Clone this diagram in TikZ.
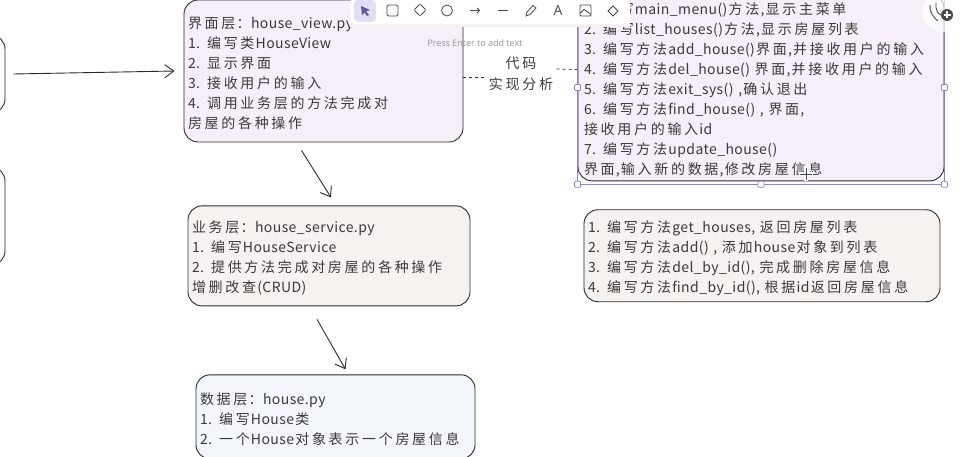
\documentclass[tikz,border=0pt]{standalone}
\usepackage{fontspec}
\setmainfont{Noto Sans CJK SC}[LetterSpace=3, WordSpace=1.5]
\newfontfamily\uifont{Open Sans}
\usepackage{xcolor}
\definecolor{colorView}{HTML}{F6EFF9}
\definecolor{colorService}{HTML}{F6F2EF}
\definecolor{colorData}{HTML}{F3F6FA}
\definecolor{colorEdge}{HTML}{2B2B2B}
\definecolor{colorText}{HTML}{3A3A3A}
\definecolor{colorSelect}{HTML}{8A80D8}
\definecolor{colorTool}{HTML}{4A4A4A}
\usetikzlibrary{arrows.meta, positioning}
% wider pitch for the ideographs only
\newcount\hanchar
\hanchar="4E00
\loop\ifnum\hanchar<"A000 \XeTeXcharclass\hanchar=1 \advance\hanchar by 1 \repeat
\XeTeXinterchartokenstate=1
\XeTeXinterchartoks 1 1 = {\kern2.7pt}
\XeTeXinterchartoks 1 0 = {\kern1.2pt}
\XeTeXinterchartoks 0 1 = {\kern1.2pt}
\tikzset{
  layer/.style={draw=colorEdge, line width=0.9pt, rounded corners=14pt, align=left, inner sep=4pt, text=colorText, font=\fontsize{14}{20}\selectfont, execute at begin node=\rule{0pt}{16pt}},
  flow/.style={->, colorEdge, line width=0.9pt},
  gap/.style={dashed, colorEdge, line width=0.8pt},
  handle/.style={draw=colorSelect, fill=white, line width=0.7pt, rounded corners=1pt, minimum size=6pt, inner sep=0pt},
  tool/.style={colorTool, line width=0.8pt}
}

\begin{document}
\begin{tikzpicture}[x=1pt, y=-1pt, >={Straight Barb[length=9pt,width=13pt]}]
\clip (0,0) rectangle (960,457);
\node[draw=colorEdge, line width=0.9pt, rounded corners=14pt, fill=white, minimum width=60pt, minimum height=78pt] (leftA) at (-25,74) {};
\node[draw=colorEdge, line width=0.9pt, rounded corners=14pt, fill=white, minimum width=60pt, minimum height=98pt] (leftB) at (-25,216) {};
\node[layer, fill=colorView, text width=271pt, minimum height=142pt] (view) at (323.5,71) {界面层：house\_view.py\\1. 编写类HouseView\\2. 显示界面\\3. 接收用户的输入\\4. 调用业务层的方法完成对\\房屋的各种操作};
\node[layer, fill=colorService, text width=274pt, minimum height=100pt, below=63pt of view, xshift=5.5pt] (service) {业务层：house\_service.py\\1. 编写HouseService\\2. 提供方法完成对房屋的各种操作\\增删改查(CRUD)};
\node[layer, fill=colorData, text width=271pt, minimum height=84pt, below=68pt of service, xshift=6.5pt] (data) {数据层：house.py\\1. 编写House类\\2. 一个House对象表示一个房屋信息};
\node[layer, fill=colorView, text width=354pt, inner xsep=6pt, minimum height=182pt] (main) at (761,87.5) {1. 编写main\_menu()方法,显示主菜单\\2. 编写list\_houses()方法,显示房屋列表\\3. 编写方法add\_house()界面,并接收用户的输入\\4. 编写方法del\_house() 界面,并接收用户的输入\\5. 编写方法exit\_sys() ,确认退出\\6. 编写方法find\_house() , 界面,\\接收用户的输入id\\7. 编写方法update\_house()\\界面,输入新的数据,修改房屋信息};
\node[layer, fill=colorService, text width=348pt, minimum height=92pt, below=28pt of main, xshift=1pt] (crud) {1. 编写方法get\_houses, 返回房屋列表\\2. 编写方法add() , 添加house对象到列表\\3. 编写方法del\_by\_id(), 完成删除房屋信息\\4. 编写方法find\_by\_id(), 根据id返回房屋信息};
\node[align=center, text=colorText, font=\fontsize{14}{21}\selectfont] (impl) at (521,74) {代码\\实现分析};
\draw[flow] ([xshift=8pt]leftA.east) -- ([xshift=-9pt]view.west);
\draw[flow] ([xshift=-22pt, yshift=-8pt]view.south) -- ([xshift=2pt, yshift=8pt]service.north);
\draw[flow] ([xshift=-12pt, yshift=-13pt]service.south) -- ([xshift=10pt, yshift=5pt]data.north);
\draw[gap] ([yshift=-6pt]view.east) -- ([yshift=-3pt]impl.west);
\draw[gap] ([yshift=5pt]impl.east) -- ([yshift=18pt]main.west);
% selection frame round the main box
\draw[colorSelect, line width=0.7pt] ([yshift=-3pt]main.south west) rectangle (main.north east);
\foreach \spot in {main.west, main.east} \node[handle] at (\spot) {};
\foreach \spot in {main.south west, main.south, main.south east} \node[handle] at ([yshift=-3pt]\spot) {};
% move cursor
\draw[white, line width=3.5pt] (806,167) -- (806,181) (799,174) -- (813,174);
\draw[colorTool, line width=0.5pt] (806,168) -- (806,180) (800,174) -- (812,174);
% toolbar
\fill[gray!12] (350,1) rectangle (630,27);
\node[fill=white, rounded corners=5pt, minimum width=280pt, minimum height=27pt, inner sep=0pt] (toolbar) at (490,11) {};
\node[fill=colorSelect!25, rounded corners=4pt, minimum size=22pt, inner sep=0pt] (toolA) at (365,11) {};
\fill[colorSelect!70!black] (361,6) -- (370,10) -- (366,11.5) -- (369,15) -- (367,16) -- (364.5,12.5) -- (362,15) -- cycle;
\draw[tool, rounded corners=1.5pt] (387,5) rectangle (398,16);
\draw[tool, rounded corners=1pt] (420,4) -- (426,10) -- (420,16) -- (414,10) -- cycle;
\draw[tool] (447,10.5) circle (5.5pt);
\draw[tool, -{Straight Barb[length=2.5pt,width=5pt]}] (470,10.5) -- (480,10.5);
\draw[tool] (498,10.5) -- (508,10.5);
\draw[tool] (526,16) -- (527,12) -- (533,5.5) -- (536,8) -- (530,14.5) -- cycle;
\node[text=colorTool, font=\uifont\fontsize{14}{14}\selectfont, inner sep=0pt] (toolB) at (558,10.5) {A};
\draw[tool, rounded corners=1pt] (580,5) rectangle (591,16);
\draw[tool] (580,13.5) -- (584,9.5) -- (591,14.5);
\draw[tool] (608,11) -- (613,6) -- (618,11) -- (613,16) -- cycle;
\node[text=gray!85, font=\uifont\fontsize{9}{9}\selectfont, inner sep=0pt] (hint) at (475,43) {Press Enter to add text};
% corner button
\fill[white, opacity=0.7] (942,12) circle (20pt);
\draw[colorTool, line width=0.9pt] (930,5) .. controls (929,12) and (934,18) .. (938,21);
\draw[colorTool, line width=0.9pt] (936,3) .. controls (935,9) and (938,14) .. (941,15);
\fill[colorTool] (947,15) circle (6pt);
\draw[white, line width=1.2pt] (943.5,15) -- (950.5,15) (947,11.5) -- (947,18.5);
\end{tikzpicture}
\end{document}
